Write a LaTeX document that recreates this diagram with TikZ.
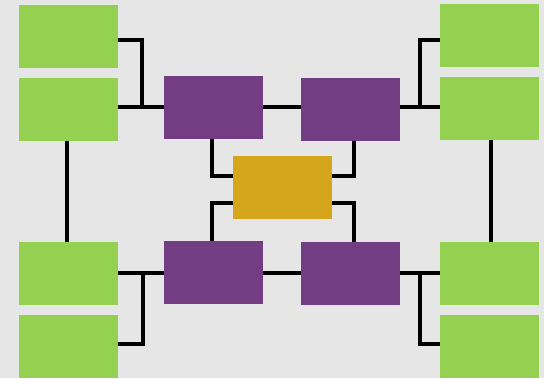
\documentclass[tikz,border=0pt]{standalone}
\usepackage{tikz}
\usetikzlibrary{calc}
\usepackage{xcolor}
\definecolor{canvas}{HTML}{E6E6E6}
\definecolor{leafgreen}{HTML}{94D151}
\definecolor{plum}{HTML}{723D82}
\definecolor{ochre}{HTML}{D5A61C}
\tikzset{
  leaf/.style={fill=leafgreen,draw=none,inner sep=0pt,minimum width=99pt,minimum height=63pt},
  hub/.style={fill=plum,draw=none,inner sep=0pt,minimum width=99pt,minimum height=63pt},
  core/.style={fill=ochre,draw=none,inner sep=0pt,minimum width=99pt,minimum height=63pt},
  link/.style={draw=black,line width=3.6pt}
}
\begin{document}
\begin{tikzpicture}[x=1pt,y=-1pt]
    \fill[canvas] (0,0) rectangle (544,378);
    \useasboundingbox (0,0) rectangle (544,378);
    % centre
    \node[core] (gold) at (282.5,187.5) {};
    % purple hubs
    \node[hub] (pTL) at (213.5,107.5) {};
    \node[hub] (pTR) at (350.5,109.5) {};
    \node[hub] (pBL) at (213.5,272.5) {};
    \node[hub] (pBR) at (350.5,273.5) {};
    % green leaves
    \node[leaf] (gTL1) at (68.5,36.5) {};
    \node[leaf] (gTL2) at (68.5,109.5) {};
    \node[leaf] (gTR1) at (489.5,35.5) {};
    \node[leaf] (gTR2) at (489.5,108.5) {};
    \node[leaf] (gBL1) at (68.5,273.5) {};
    \node[leaf] (gBL2) at (68.5,346.5) {};
    \node[leaf] (gBR1) at (489.5,273.5) {};
    \node[leaf] (gBR2) at (489.5,346.5) {};
    % joints
    \coordinate (jTL) at (142,107);
    \coordinate (jTR) at (420,107);
    \coordinate (jBL) at (143,273);
    \coordinate (jBR) at (420,273);
    % top row
    \draw[link] ([yshift=-3.5pt]gTL1.east) -| (jTL);
    \draw[link] (gTL2.east |- jTL) -- (pTL.west |- jTL);
    \draw[link] (pTL.east |- jTL) -- (pTR.west |- jTL);
    \draw[link] (pTR.east |- jTR) -- (gTR2.west |- jTR);
    \draw[link] ([yshift=-4.5pt]gTR1.west) -| (jTR);
    % bottom row
    \draw[link] (gBL1.east |- jBL) -- (pBL.west |- jBL);
    \draw[link] (pBL.east |- jBL) -- (pBR.west |- jBL);
    \draw[link] (pBR.east |- jBR) -- (gBR1.west |- jBR);
    \draw[link] ([yshift=2.5pt]gBL2.east) -| (jBL);
    \draw[link] ([yshift=2.5pt]gBR2.west) -| (jBR);
    % sides
    \draw[link] ([xshift=-1.5pt]gTL2.south) -- ([xshift=-1.5pt]gBL1.north);
    \draw[link] ([xshift=1.5pt]gTR2.south) -- ([xshift=1.5pt]gBR1.north);
    % hubs to centre
    \draw[link] ([xshift=-1.5pt]pTL.south) |- ([yshift=11.5pt]gold.west);
    \draw[link] ([xshift=3.5pt]pTR.south) |- ([yshift=11.5pt]gold.east);
    \draw[link] ([xshift=-1.5pt]pBL.north) |- ([yshift=-15.5pt]gold.west);
    \draw[link] ([xshift=3.5pt]pBR.north) |- ([yshift=-15.5pt]gold.east);
\end{tikzpicture}
\end{document}
